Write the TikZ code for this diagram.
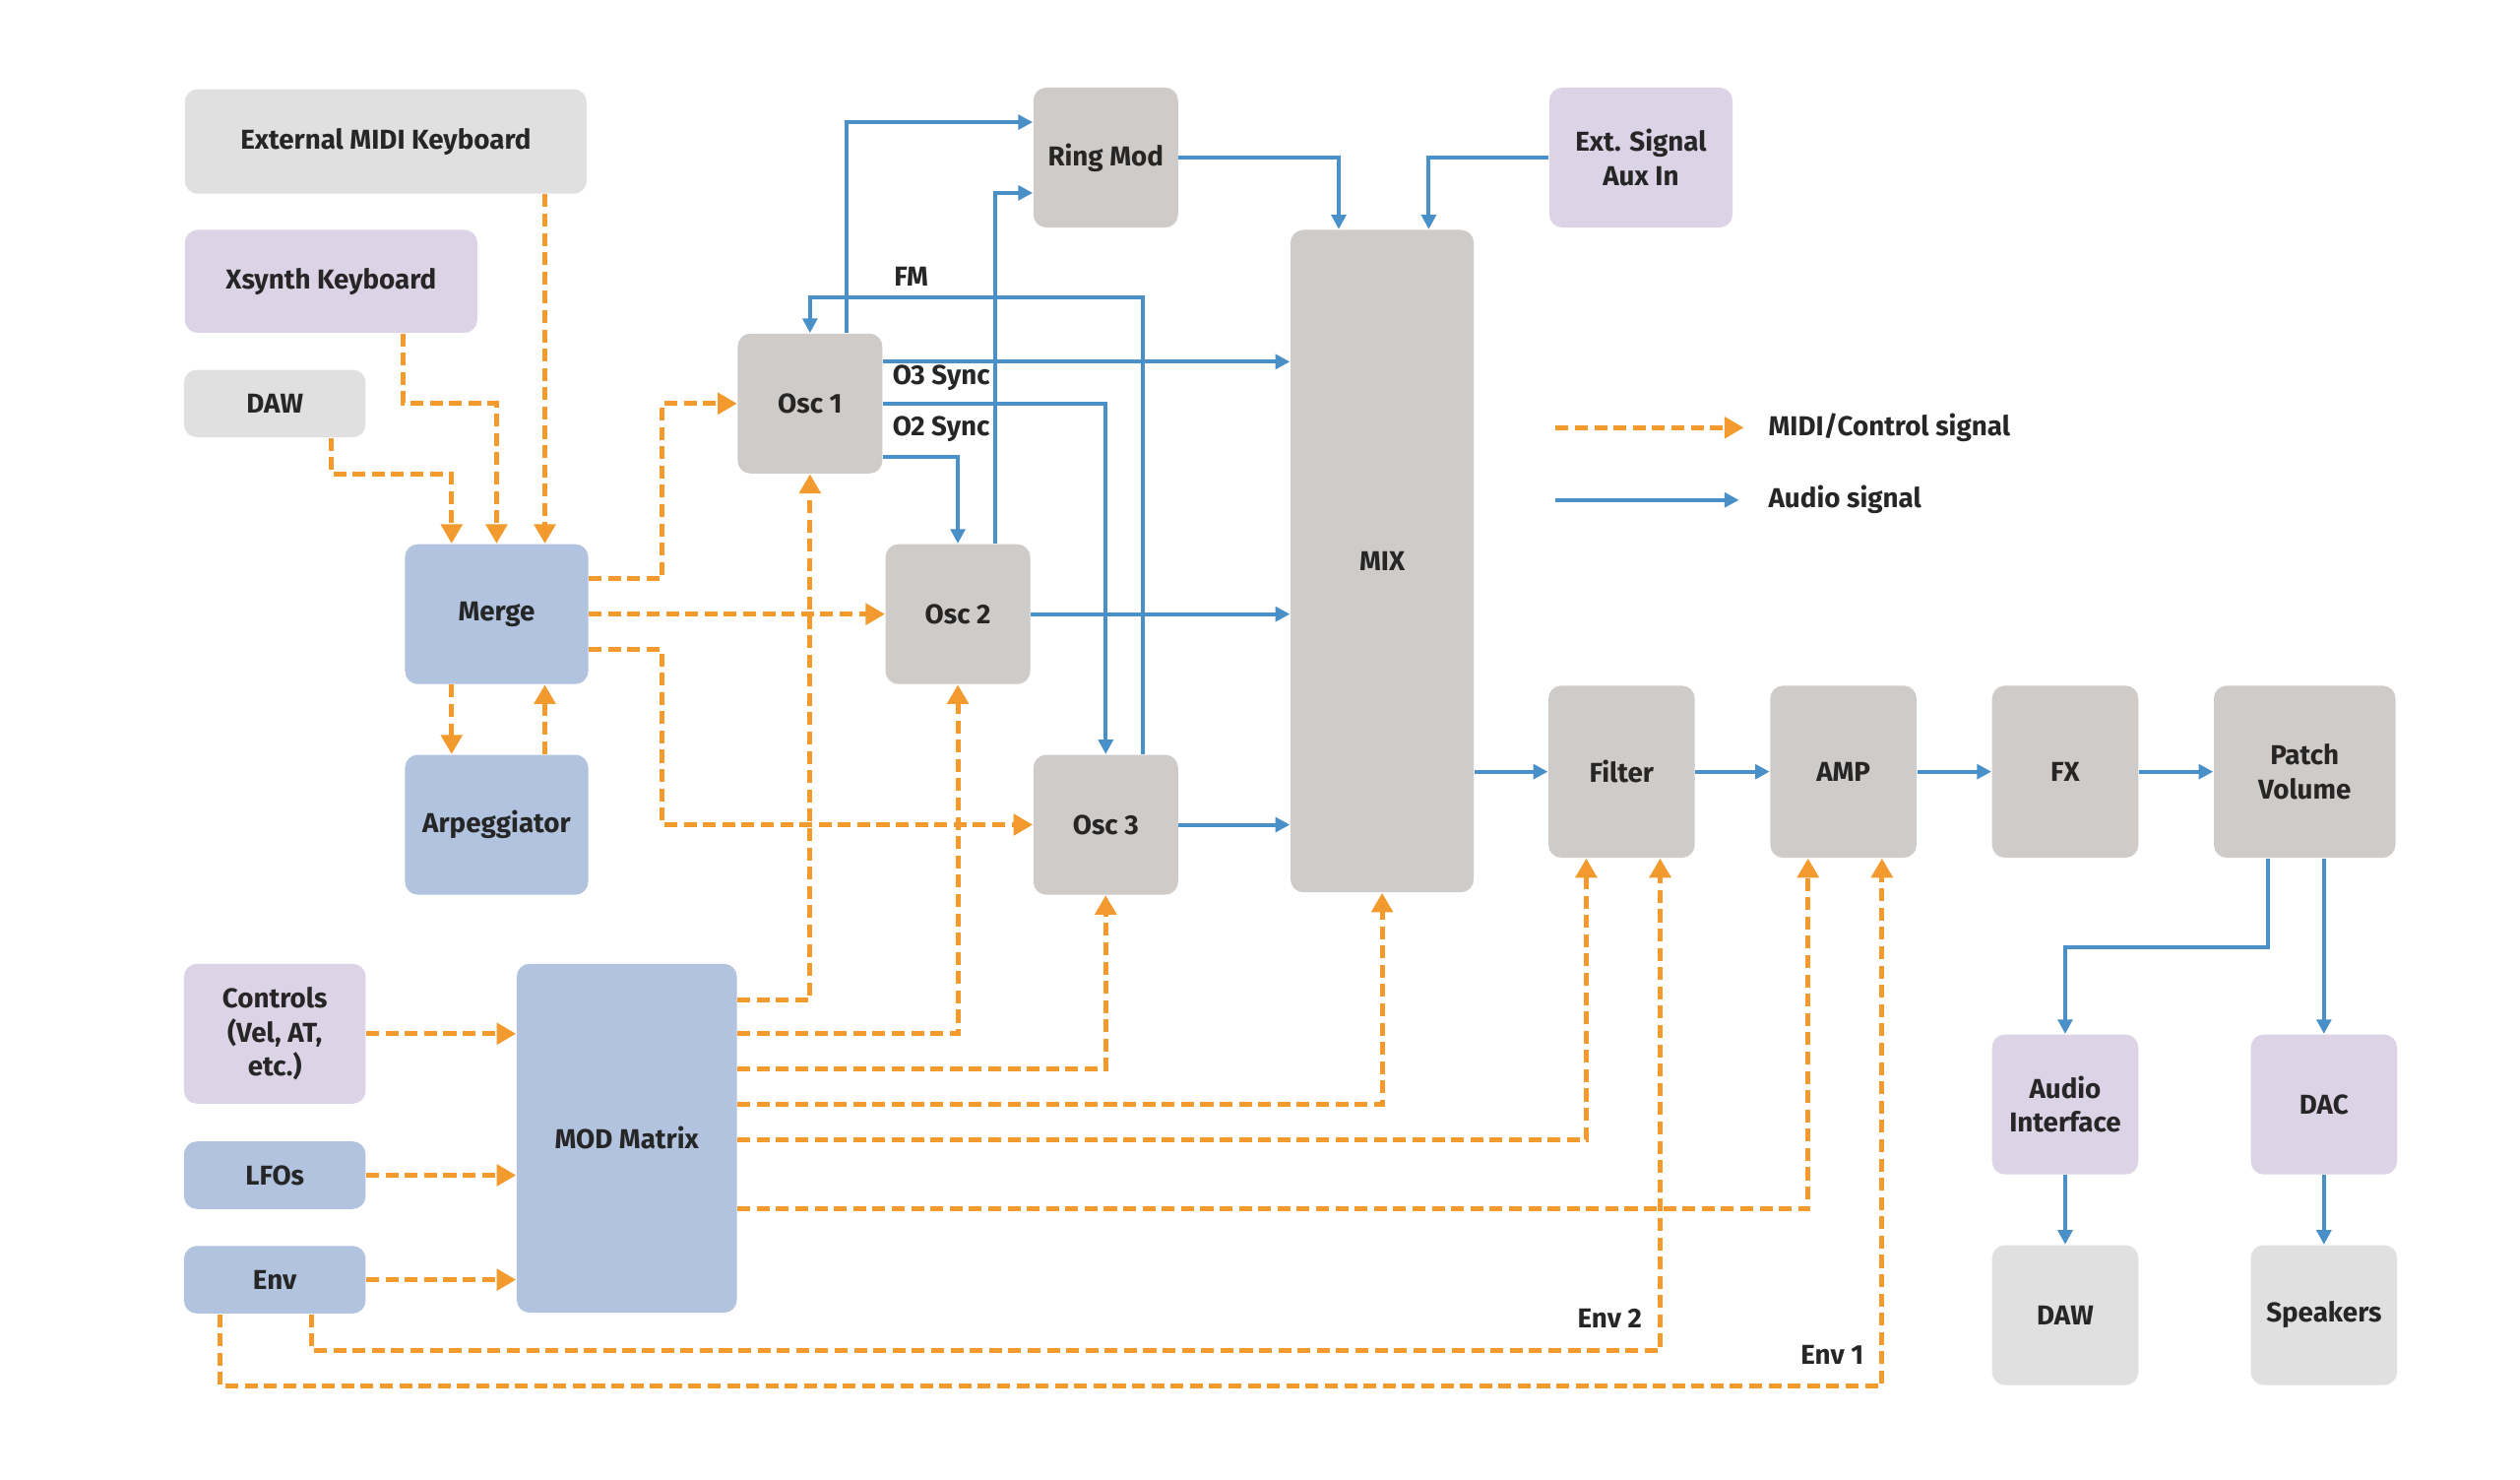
\documentclass[tikz,border=0pt]{standalone}
\usepackage{fontspec}
\setmainfont{Fira Sans}
\usetikzlibrary{arrows.meta}
\definecolor{og}{HTML}{F29A2E}
\definecolor{bl}{HTML}{4A90C8}
\definecolor{lg}{HTML}{E0E0E0}
\definecolor{lv}{HTML}{DDD3E6}
\definecolor{bb}{HTML}{B1C3DE}
\definecolor{gr}{HTML}{CFCBC8}
\begin{document}
\begin{tikzpicture}[x=0.5pt,y=-0.5pt,
  box/.style={rounded corners=4pt, inner sep=1pt, align=center, font=\fontsize{8.5}{10.5}\selectfont\bfseries, text=black!85},
  ctl/.style={draw=og, line width=1.5pt, dash pattern=on 4pt off 2pt, -{Triangle[length=6pt,width=6.5pt]}},
  aud/.style={draw=bl, line width=1.2pt, -{Triangle[length=4.5pt,width=4.5pt]}},
  lab/.style={font=\fontsize{8.5}{10}\selectfont\bfseries, text=black!85, inner sep=0}]
\useasboundingbox[fill=white] (0,0) rectangle (1568,920);
\newcommand{\bx}[7]{\node[box, fill=#2, minimum width=#5*0.5pt, minimum height=#6*0.5pt] (#1) at (#3,#4) {#7};}
\bx{extmidi}{lg}{240}{88}{250}{65}{External MIDI Keyboard}
\bx{xsynth}{lv}{206}{175}{182}{64}{Xsynth Keyboard}
\bx{daw}{lg}{171}{251}{113}{42}{DAW}
\bx{merge}{bb}{309}{382}{114}{87}{Merge}
\bx{arp}{bb}{309}{513}{114}{87}{Arpeggiator}
\bx{osca}{gr}{504}{251}{90}{87}{Osc 1}
\bx{oscb}{gr}{596}{382}{90}{87}{Osc 2}
\bx{oscc}{gr}{688}{513}{90}{87}{Osc 3}
\bx{ring}{gr}{688}{98}{90}{87}{Ring Mod}
\bx{mix}{gr}{860}{349}{114}{412}{MIX}
\bx{ext}{lv}{1021}{98}{114}{87}{Ext. Signal\\Aux In}
\bx{filter}{gr}{1009}{480}{91}{107}{Filter}
\bx{amp}{gr}{1147}{480}{91}{107}{AMP}
\bx{fx}{gr}{1285}{480}{91}{107}{FX}
\bx{pv}{gr}{1434}{480}{113}{107}{Patch\\Volume}
\bx{ai}{lv}{1285}{687}{91}{87}{Audio\\Interface}
\bx{dac}{lv}{1446}{687}{91}{87}{DAC}
\bx{dawb}{lg}{1285}{818}{91}{87}{DAW}
\bx{spk}{lg}{1446}{818}{91}{87}{Speakers}
\bx{ctrl}{lv}{171}{643}{113}{87}{Controls\\(Vel, AT,\\etc.)}
\bx{lfo}{bb}{171}{731}{113}{42}{LFOs}
\bx{env}{bb}{171}{796}{113}{42}{Env}
\bx{mod}{bb}{390}{708}{137}{217}{MOD Matrix}
% legend
\coordinate (l1a) at (968,266); \coordinate (l1b) at (1085,266);
\coordinate (l2a) at (968,311); \coordinate (l2b) at (1082,311);
\draw[ctl] (l1a) -- (l1b);
\draw[aud] (l2a) -- (l2b);
\node[lab, anchor=west] (t1) at (1100,266) {MIDI/Control signal};
\node[lab, anchor=west] (t2) at (1100,311) {Audio signal};
% control
\draw[ctl] (extmidi.south -| 339,0) -- (merge.north -| 339,0);
\draw[ctl] (xsynth.south -| 251,0) |- (309,251) -- (merge.north -| 309,0);
\draw[ctl] (daw.south -| 206,0) |- (281,295) -- (merge.north -| 281,0);
\draw[ctl] (merge.east |- 0,360) -| (412,251) -- (osca.west);
\draw[ctl] (merge.east) -- (oscb.west);
\draw[ctl] (merge.east |- 0,404) -| (412,513) -- (oscc.west);
\draw[ctl] (merge.south -| 281,0) -- (arp.north -| 281,0);
\draw[ctl] (arp.north -| 339,0) -- (merge.south -| 339,0);
\draw[ctl] (ctrl.east) -- (mod.west |- ctrl.east);
\draw[ctl] (lfo.east) -- (mod.west |- lfo.east);
\draw[ctl] (env.east) -- (mod.west |- env.east);
\draw[ctl] (mod.east |- 0,622) -| (osca.south);
\draw[ctl] (mod.east |- 0,643) -| (oscb.south);
\draw[ctl] (mod.east |- 0,665) -| (oscc.south);
\draw[ctl] (mod.east |- 0,687) -| (mix.south);
\draw[ctl] (mod.east |- 0,709) -| (filter.south -| 987,0);
\draw[ctl] (mod.east |- 0,752) -| (amp.south -| 1125,0);
\draw[ctl] (env.south -| 194,0) |- (1033,840) -- (filter.south -| 1033,0);
\draw[ctl] (env.south -| 137,0) |- (1171,862) -- (amp.south -| 1171,0);
\node[lab, anchor=east] (e2) at (1022,820) {Env 2};
\node[lab, anchor=east] (e1) at (1160,843) {Env 1};
% audio
\draw[aud] (osca.north -| 527,0) |- (ring.west |- 0,76);
\draw[aud] (oscb.north -| 619,0) |- (ring.west |- 0,120);
\draw[aud] (oscc.north -| 711,0) |- (504,185) -- (osca.north);
\node[lab] (fm) at (567,172) {FM};
\draw[aud] (osca.east |- 0,225) -- (mix.west |- 0,225);
\draw[aud] (osca.east |- 0,251) -| (oscc.north);
\draw[aud] (osca.east |- 0,284) -| (oscb.north);
\node[lab, anchor=west] (s3) at (555,235) {O3 Sync};
\node[lab, anchor=west] (s2) at (555,267) {O2 Sync};
\draw[aud] (oscb.east) -- (mix.west |- oscb.east);
\draw[aud] (oscc.east) -- (mix.west |- oscc.east);
\draw[aud] (ring.east) -| (mix.north -| 833,0);
\draw[aud] (ext.west) -| (mix.north -| 889,0);
\draw[aud] (mix.east |- filter.west) -- (filter.west);
\draw[aud] (filter.east) -- (amp.west);
\draw[aud] (amp.east) -- (fx.west);
\draw[aud] (fx.east) -- (pv.west);
\draw[aud] (pv.south -| 1411,0) |- (1285,589) -- (ai.north);
\draw[aud] (pv.south -| 1446,0) -- (dac.north);
\draw[aud] (ai.south) -- (dawb.north);
\draw[aud] (dac.south) -- (spk.north);
\end{tikzpicture}
\end{document}
